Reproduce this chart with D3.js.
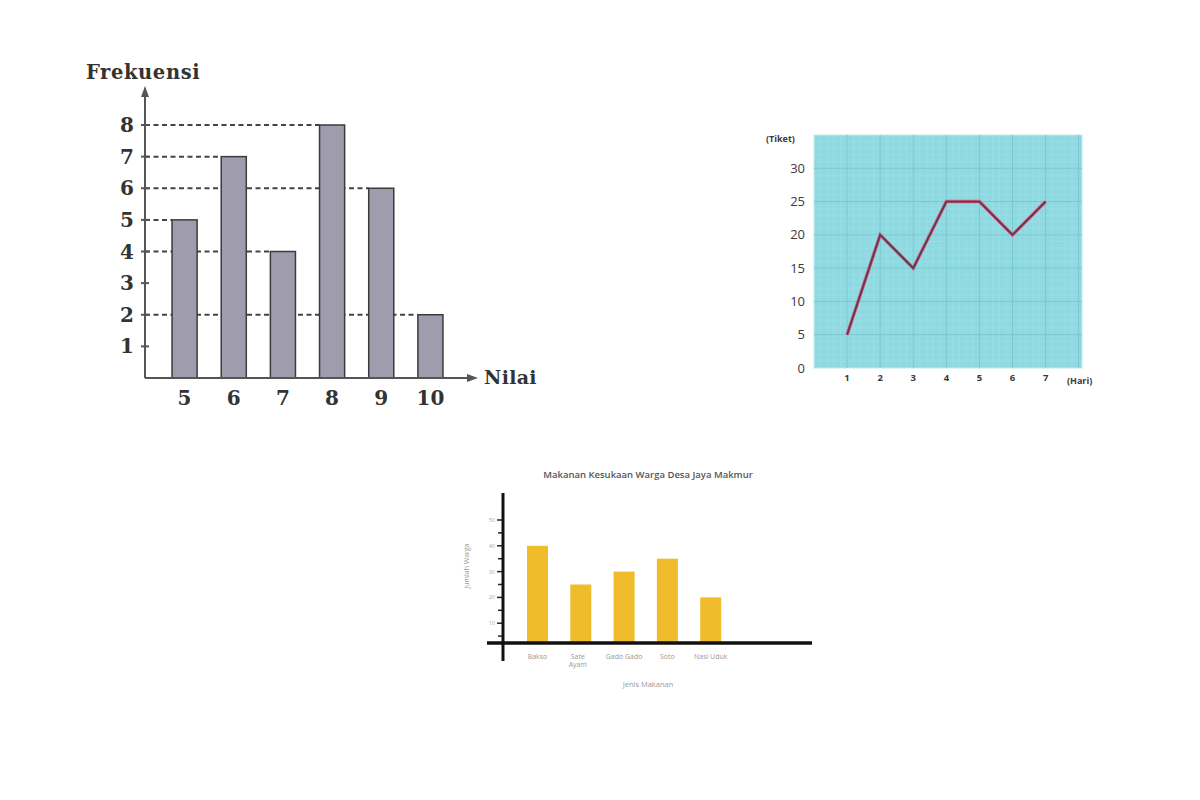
<!DOCTYPE html>
<html>
<head>
<meta charset="utf-8">
<script src="https://cdn.jsdelivr.net/npm/d3@7"></script>
<style>
  html, body { margin: 0; padding: 0; background: #fff; }
  svg { display: block; }
</style>
</head>
<body>
<svg id="chart" width="1200" height="800"></svg>
<script>
// ---------- DATA ----------
// Chart 1: frequency bar chart
const nilai = ["5", "6", "7", "8", "9", "10"];
const frekuensi = [5, 7, 4, 8, 6, 2];
const freqTicks = [1, 2, 3, 4, 5, 6, 7, 8];

// Chart 2: ticket line chart
const hari = [1, 2, 3, 4, 5, 6, 7];
const tiket = [5, 20, 15, 25, 25, 20, 25];
const tiketTicks = [0, 5, 10, 15, 20, 25, 30];

// Chart 3: favourite food bar chart
const makanan = ["Bakso", "Sate Ayam", "Gado Gado", "Soto", "Nasi Uduk"];
const jumlahWarga = [40, 25, 30, 35, 20];
const wargaTicks = [10, 20, 30, 40, 50];
const wargaMinorTicks = [5, 15, 25, 35, 45];

const svg = d3.select("#chart");

// ======================= CHART 1 =======================
(function () {
  const g = svg.append("g");
  const ink = "#3b3b3b";
  const serif = "'DejaVu Serif', 'Liberation Serif', serif";
  const x = d3.scaleBand().domain(nilai).range([160, 455]).paddingInner(0.49).paddingOuter(0.245);
  const y = d3.scaleLinear().domain([0, 8]).range([378, 125]);
  const x0 = 145;

  g.selectAll("line.guide").data(nilai).enter().append("line")
    .attr("x1", x0).attr("x2", d => x(d))
    .attr("y1", (d, i) => y(frekuensi[i])).attr("y2", (d, i) => y(frekuensi[i]))
    .attr("stroke", "#444").attr("stroke-width", 2).attr("stroke-dasharray", "5,3.5");

  g.selectAll("rect.bar").data(nilai).enter().append("rect")
    .attr("x", d => x(d)).attr("width", x.bandwidth())
    .attr("y", (d, i) => y(frekuensi[i]))
    .attr("height", (d, i) => y(0) - y(frekuensi[i]))
    .attr("fill", "#9e9cad").attr("stroke", ink).attr("stroke-width", 1.5);

  g.append("line").attr("x1", x0).attr("x2", x0).attr("y1", y(0)).attr("y2", 92)
    .attr("stroke", "#555").attr("stroke-width", 2);
  g.append("path").attr("d", `M${x0},86 L${x0 - 4},97 L${x0 + 4},97 Z`).attr("fill", "#555");
  g.append("line").attr("x1", x0).attr("x2", 472).attr("y1", y(0)).attr("y2", y(0))
    .attr("stroke", "#555").attr("stroke-width", 2);
  g.append("path").attr("d", `M478,${y(0)} L467,${y(0) - 4} L467,${y(0) + 4} Z`).attr("fill", "#555");

  g.selectAll("line.yt").data(freqTicks).enter().append("line")
    .attr("x1", x0 - 4).attr("x2", x0 + 4).attr("y1", d => y(d)).attr("y2", d => y(d))
    .attr("stroke", "#555").attr("stroke-width", 2);
  g.selectAll("text.yl").data(freqTicks).enter().append("text")
    .attr("x", 134).attr("y", d => y(d) + 7).attr("text-anchor", "end")
    .attr("font-family", serif).attr("font-weight", "bold").attr("font-size", 20)
    .attr("fill", "#333").text(d => d);
  g.selectAll("text.xl").data(nilai).enter().append("text")
    .attr("x", d => x(d) + x.bandwidth() / 2).attr("y", 405).attr("text-anchor", "middle")
    .attr("font-family", serif).attr("font-weight", "bold").attr("font-size", 20)
    .attr("fill", "#333").text(d => d);

  g.append("text").attr("x", 86).attr("y", 79).text("Frekuensi")
    .attr("font-family", serif).attr("font-weight", "bold").attr("font-size", 19.5)
    .attr("letter-spacing", 0.6).attr("fill", "#333");
  g.append("text").attr("x", 484).attr("y", 384).text("Nilai")
    .attr("font-family", serif).attr("font-weight", "bold").attr("font-size", 19)
    .attr("letter-spacing", 0.3).attr("fill", "#333");
})();

// ======================= CHART 2 =======================
(function () {
  const g = svg.append("g");
  const x = d3.scaleLinear().domain([0, 8.1]).range([814, 1082]);
  const y = d3.scaleLinear().domain([0, 35]).range([368, 135]);
  const sans = "'Open Sans', 'DejaVu Sans', sans-serif";

  g.append("rect").attr("x", x(0)).attr("y", y(35)).attr("width", x(8.1) - x(0)).attr("height", y(0) - y(35))
    .attr("fill", "#8fdae2").attr("stroke", "#c4e9ec").attr("stroke-width", 1);

  const xm = d3.range(0.2, 8.1, 0.2), ym = d3.range(1, 35, 1);
  g.selectAll("line.xm").data(xm).enter().append("line")
    .attr("x1", d => x(d)).attr("x2", d => x(d)).attr("y1", y(0)).attr("y2", y(35))
    .attr("stroke", "#9fdfe6").attr("stroke-width", 0.7);
  g.selectAll("line.ym").data(ym).enter().append("line")
    .attr("y1", d => y(d)).attr("y2", d => y(d)).attr("x1", x(0)).attr("x2", x(8.1))
    .attr("stroke", "#9fdfe6").attr("stroke-width", 0.7);
  g.selectAll("line.xM").data(d3.range(1, 9)).enter().append("line")
    .attr("x1", d => x(d)).attr("x2", d => x(d)).attr("y1", y(0)).attr("y2", y(35))
    .attr("stroke", "#79c7d0").attr("stroke-width", 1);
  g.selectAll("line.yM").data([5, 10, 15, 20, 25, 30]).enter().append("line")
    .attr("y1", d => y(d)).attr("y2", d => y(d)).attr("x1", x(0)).attr("x2", x(8.1))
    .attr("stroke", "#79c7d0").attr("stroke-width", 1);

  const line = d3.line().x((d, i) => x(hari[i])).y(d => y(d));
  g.append("path").datum(tiket).attr("d", line).attr("fill", "none")
    .attr("stroke", "#d95a82").attr("stroke-width", 3.4).attr("stroke-linejoin", "miter");
  g.append("path").datum(tiket).attr("d", line).attr("fill", "none")
    .attr("stroke", "#5e3a4a").attr("stroke-width", 1.8).attr("stroke-linejoin", "miter");

  g.selectAll("text.yl").data(tiketTicks).enter().append("text")
    .attr("x", 805).attr("y", d => y(d) + 4.5).attr("text-anchor", "end")
    .attr("font-family", sans).attr("font-size", 13).attr("fill", "#3a3a3a").text(d => d);
  g.selectAll("text.xl").data(hari).enter().append("text")
    .attr("x", d => x(d)).attr("y", 381).attr("text-anchor", "middle")
    .attr("font-family", sans).attr("font-weight", "bold").attr("font-size", 9.5).attr("fill", "#3a3a3a").text(d => d);
  g.append("text").attr("x", 766).attr("y", 142).text("(Tiket)")
    .attr("font-family", sans).attr("font-weight", "bold").attr("font-size", 9).attr("fill", "#3a3a3a");
  g.append("text").attr("x", 1067).attr("y", 384).text("(Hari)")
    .attr("font-family", sans).attr("font-weight", "bold").attr("font-size", 9).attr("fill", "#3a3a3a");
})();

// ======================= CHART 3 =======================
(function () {
  const g = svg.append("g");
  const sans = "'Open Sans', 'DejaVu Sans', sans-serif";
  const x = d3.scaleBand().domain(makanan).range([505.35, 742.85]).paddingInner(0.515).paddingOuter(0.5);
  const y = d3.scaleLinear().domain([0, 50]).range([649, 520]);
  const axisY = 643, axisX = 503;

  g.selectAll("rect.bar").data(makanan).enter().append("rect")
    .attr("x", d => x(d)).attr("width", x.bandwidth())
    .attr("y", (d, i) => y(jumlahWarga[i]))
    .attr("height", (d, i) => axisY - y(jumlahWarga[i]))
    .attr("fill", "#f0bc2b");

  g.selectAll("line.maj").data(wargaTicks).enter().append("line")
    .attr("x1", axisX - 6).attr("x2", axisX).attr("y1", d => y(d)).attr("y2", d => y(d))
    .attr("stroke", "#222").attr("stroke-width", 1.5);
  g.selectAll("line.min").data(wargaMinorTicks).enter().append("line")
    .attr("x1", axisX - 5).attr("x2", axisX).attr("y1", d => y(d)).attr("y2", d => y(d))
    .attr("stroke", "#222").attr("stroke-width", 1.5);
  g.selectAll("text.yl").data(wargaTicks).enter().append("text")
    .attr("x", 495).attr("y", d => y(d) + 2).attr("text-anchor", "end")
    .attr("font-family", sans).attr("font-size", 5.5).attr("fill", "#aaa").text(d => d);

  g.append("line").attr("x1", axisX).attr("x2", axisX).attr("y1", 493).attr("y2", 661)
    .attr("stroke", "#111").attr("stroke-width", 3);
  g.append("line").attr("x1", 487).attr("x2", 812).attr("y1", axisY).attr("y2", axisY)
    .attr("stroke", "#111").attr("stroke-width", 3.5);

  g.selectAll("text.xl").data(makanan).enter().append("text")
    .attr("text-anchor", "middle")
    .attr("font-family", sans).attr("font-size", 7).attr("fill", "#999")
    .each(function (d) {
      const cx = x(d) + x.bandwidth() / 2;
      const t = d3.select(this);
      if (d === "Sate Ayam") {
        t.append("tspan").attr("x", cx - 3).attr("y", 659).text("Sate");
        t.append("tspan").attr("x", cx - 3).attr("y", 667).text("Ayam");
      } else {
        t.attr("x", cx).attr("y", 659).text(d);
      }
    });

  g.append("text").attr("x", 648).attr("y", 478).attr("text-anchor", "middle")
    .text("Makanan Kesukaan Warga Desa Jaya Makmur")
    .attr("font-family", sans).attr("font-weight", 600).attr("font-size", 9.5).attr("fill", "#555");
  g.append("text").attr("x", 648).attr("y", 687).attr("text-anchor", "middle")
    .text("Jenis Makanan")
    .attr("font-family", sans).attr("font-size", 7.5).attr("fill", "#999");
  g.append("text").attr("transform", "translate(469,566) rotate(-90)").attr("text-anchor", "middle")
    .text("Jumlah Warga")
    .attr("font-family", sans).attr("font-size", 7).attr("fill", "#999");
})();
</script>
</body>
</html>
